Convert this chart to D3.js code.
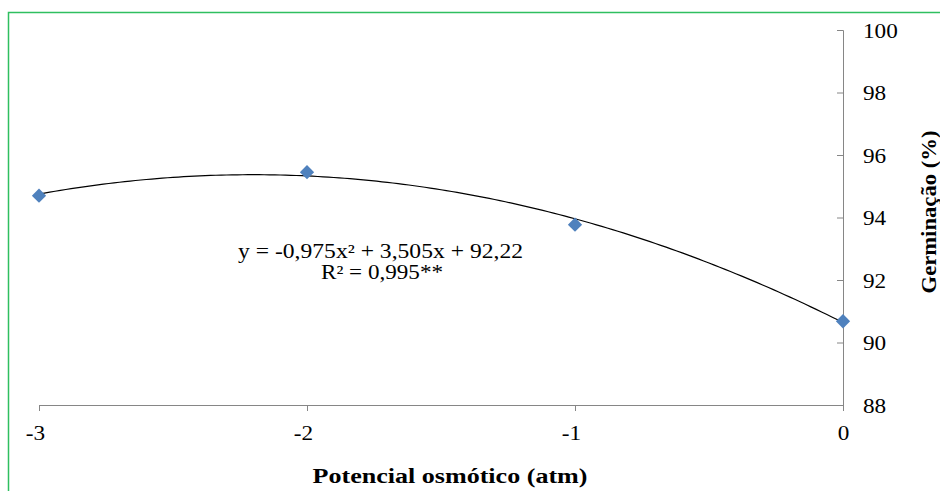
<!DOCTYPE html>
<html><head><meta charset="utf-8">
<script src="https://cdn.jsdelivr.net/npm/d3@7"></script>
<style>body{margin:0;background:#fff}svg{display:block}</style>
</head><body>
<svg id="c" width="940" height="491"></svg>
<script>
const potentials = [-3, -2, -1, 0];
const germination = [94.7, 95.45, 93.77, 90.68];
const yTicks = [88, 90, 92, 94, 96, 98, 100];
const xTicks = [-3, -2, -1, 0];
const coef = {a: -0.975, b: 3.505, c: 92.22, offset: 4};
const eqLine1 = "y = -0,975x² + 3,505x + 92,22";
const eqLine2 = "R² = 0,995**";
const xTitle = "Potencial osmótico (atm)";
const yTitle = "Germinação (%)";

const FONT = '"Liberation Serif"';
const STRETCH = 1.16;
const svg = d3.select("#c");
svg.append("rect").attr("x",8.5).attr("y",12.5).attr("width",940).attr("height",500)
  .attr("fill","none").attr("stroke","#2fbf5f").attr("stroke-width",1.5);

const x = d3.scaleLinear().domain([-3,0]).range([39,843]);
const y = d3.scaleLinear().domain([88,100]).range([405,30]);
const fmt = d => String(d);
function widen(sel, k){
  sel.each(function(){
    const L = this.getComputedTextLength();
    d3.select(this).attr("textLength", L*k).attr("lengthAdjust","spacingAndGlyphs");
  });
}

const gray = "#868686";
const yAxis = svg.append("g").attr("transform","translate(843,0)")
  .call(d3.axisLeft(y).tickValues(yTicks).tickSize(6).tickFormat(fmt));
yAxis.attr("font-family", null);
yAxis.selectAll(".domain").attr("stroke",gray).attr("d","M-6,30.5H0.5V405.5");
yAxis.selectAll(".tick line").attr("stroke",gray);
yAxis.selectAll(".tick text").attr("x",20).attr("dy",null).attr("y",7).attr("text-anchor","start")
  .style("font-family",FONT).style("font-size","20px").attr("fill","#000")
  .call(widen, STRETCH);

const xAxis = svg.append("g").attr("transform","translate(0,405)")
  .call(d3.axisBottom(x).tickValues(xTicks).tickSize(6).tickFormat(fmt));
xAxis.attr("font-family", null);
xAxis.selectAll(".domain").attr("stroke",gray).attr("d","M39.5,6V0.5H843.5");
xAxis.selectAll(".tick line").attr("stroke",gray);
xAxis.selectAll(".tick text").attr("dy",null).attr("y",35).attr("dx", d => d < 0 ? -4 : 0)
  .style("font-family",FONT).style("font-size","20px").attr("fill","#000")
  .call(widen, STRETCH);

// trendline
const curve = d3.range(-3, 0.0001, 0.02).map(p => {
  const t = p + coef.offset;
  return [p, coef.a*t*t + coef.b*t + coef.c];
});
svg.append("path").datum(curve)
  .attr("d", d3.line().x(d=>x(d[0])).y(d=>y(d[1])))
  .attr("fill","none").attr("stroke","#000").attr("stroke-width",1.2);

// points
svg.selectAll("path.pt").data(potentials).join("path").attr("class","pt")
  .attr("transform",(d,i)=>`translate(${x(d)},${y(germination[i])})`)
  .attr("d", d3.symbol(d3.symbolDiamond2, 130)())
  .attr("fill","#4f81bd");

// equation
svg.append("text").attr("x",380.5).attr("y",258).attr("text-anchor","middle")
  .style("font-family",FONT).style("font-size","20px").attr("fill","#000")
  .attr("textLength",285).attr("lengthAdjust","spacingAndGlyphs").text(eqLine1);
svg.append("text").attr("x",382).attr("y",279).attr("text-anchor","middle")
  .style("font-family",FONT).style("font-size","20px").attr("fill","#000")
  .attr("textLength",122).attr("lengthAdjust","spacingAndGlyphs").text(eqLine2);

svg.append("text").attr("x",450).attr("y",483).attr("text-anchor","middle")
  .style("font-family",FONT).style("font-size","20px").style("font-weight","bold")
  .attr("textLength",275).attr("lengthAdjust","spacingAndGlyphs").text(xTitle);
svg.append("text").attr("transform","translate(936,212) rotate(-90)").attr("text-anchor","middle")
  .style("font-family",FONT).style("font-size","20px").style("font-weight","bold")
  .attr("textLength",163).attr("lengthAdjust","spacingAndGlyphs").text(yTitle);
</script>
</body></html>
